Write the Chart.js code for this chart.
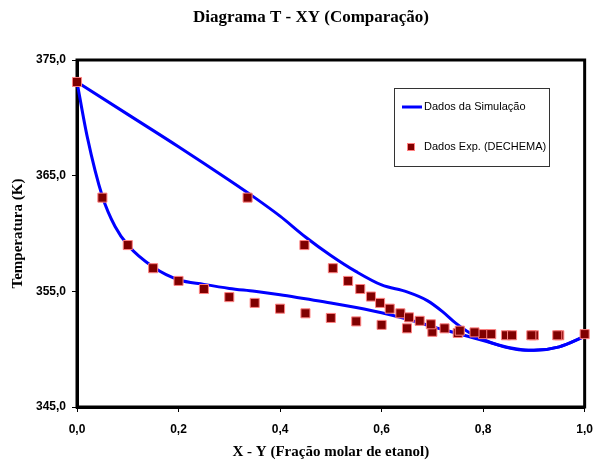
<!DOCTYPE html>
<html>
<head>
<meta charset="utf-8">
<script src="https://cdn.jsdelivr.net/npm/chart.js@4"></script>
<style>
  html, body { margin: 0; padding: 0; background: #fff; }
  #wrap { width: 603px; height: 467px; position: relative; }
</style>
</head>
<body>
<div id="wrap"><canvas id="chart-txy"></canvas></div>
<script>
// Simulação - curva de bolha (T x)
const bubX = [0, 0.02, 0.05, 0.075, 0.1, 0.15, 0.2, 0.25, 0.3, 0.35, 0.4, 0.45, 0.5, 0.55, 0.6, 0.65, 0.7, 0.75, 0.8, 0.85, 0.9, 0.95, 1.0];
const bubT = [373.1, 368.4, 363.2, 360.6, 359.0, 357.1, 356.0, 355.6, 355.25, 355.0, 354.7, 354.35, 354.0, 353.6, 353.15, 352.6, 351.95, 351.35, 350.75, 350.15, 349.9, 350.2, 351.1];

// Simulação - curva de orvalho (T y)
const dewX = [0, 0.1, 0.2, 0.3, 0.35, 0.4, 0.45, 0.5, 0.55, 0.6, 0.65, 0.69, 0.72, 0.746, 0.77, 0.8, 0.83, 0.87, 0.9, 0.95, 1.0];
const dewT = [373.1, 370.3, 367.5, 364.6, 363.1, 361.5, 359.7, 358.1, 356.7, 355.55, 354.95, 354.2, 353.25, 352.25, 351.5, 350.85, 350.35, 349.95, 349.9, 350.2, 351.1];

// Dados experimentais (DECHEMA)
const expX = [0, 0.05, 0.1, 0.15, 0.2, 0.25, 0.3, 0.35, 0.4, 0.45, 0.5, 0.55, 0.6, 0.65, 0.7, 0.75, 0.8, 0.845, 0.9, 0.95, 1.0,
              0.336, 0.448, 0.504, 0.534, 0.558, 0.579, 0.597, 0.616, 0.637, 0.654, 0.675, 0.697, 0.724, 0.754, 0.783, 0.816, 0.857, 0.895, 0.946];
const expT = [373.1, 363.1, 359.0, 357.0, 355.9, 355.2, 354.5, 354.0, 353.5, 353.1, 352.7, 352.4, 352.1, 351.8, 351.5, 351.4, 351.3, 351.2, 351.2, 351.2, 351.3,
              363.1, 359.0, 357.0, 355.9, 355.2, 354.55, 354.0, 353.5, 353.1, 352.75, 352.45, 352.15, 351.8, 351.6, 351.45, 351.3, 351.2, 351.2, 351.2];

const xTicks = [0, 0.2, 0.4, 0.6, 0.8, 1.0];
const yTicks = [345, 355, 365, 375];

const chartTitle = 'Diagrama T - XY (Comparação)';
const xTitle = 'X - Y (Fração molar de etanol)';
const yTitle = 'Temperatura (K)';
const legendLabels = ['Dados da Simulação', 'Dados Exp. (DECHEMA)'];

const toPts = (xs, ys) => xs.map((x, i) => ({ x: x, y: ys[i] }));
const fmt = v => Number(v).toFixed(1).replace('.', ',');

const BLUE = '#0000FF';
const RED = '#800000';
const PINK = '#FF8080';

// moldura, títulos e legenda
const decor = {
  id: 'decor',
  beforeDatasetsDraw(chart) {
    const { ctx, chartArea: a } = chart;
    ctx.save();
    ctx.strokeStyle = '#000';
    ctx.lineWidth = 3;
    ctx.strokeRect(a.left, a.top, a.right - a.left, a.bottom - a.top);
    ctx.restore();
  },
  afterDraw(chart) {
    const { ctx, chartArea: a } = chart;
    ctx.save();
    ctx.fillStyle = '#000';
    ctx.textAlign = 'center';
    ctx.textBaseline = 'middle';

    ctx.font = 'bold 17px "Liberation Serif", "Times New Roman", serif';
    ctx.fillText(chartTitle, 311, 18);

    ctx.font = 'bold 15px "Liberation Serif", "Times New Roman", serif';
    ctx.fillText(xTitle, (a.left + a.right) / 2, 452);

    ctx.save();
    ctx.translate(18, (a.top + a.bottom) / 2);
    ctx.rotate(-Math.PI / 2);
    ctx.fillText(yTitle, 0, 0);
    ctx.restore();

    // legenda
    ctx.strokeStyle = '#333';
    ctx.lineWidth = 1;
    ctx.strokeRect(394.5, 88.5, 155, 78);
    ctx.strokeStyle = BLUE;
    ctx.lineWidth = 3;
    ctx.beginPath();
    ctx.moveTo(402, 107);
    ctx.lineTo(422, 107);
    ctx.stroke();
    ctx.fillStyle = RED;
    ctx.fillRect(407.5, 143.5, 7, 7);
    ctx.strokeStyle = PINK;
    ctx.lineWidth = 1;
    ctx.strokeRect(407.5, 143.5, 7, 7);

    ctx.fillStyle = '#000';
    ctx.textAlign = 'left';
    ctx.font = '11px "Liberation Sans", Arial, sans-serif';
    ctx.fillText(legendLabels[0], 424, 107);
    ctx.fillText(legendLabels[1], 424, 147);
    ctx.restore();
  }
};

const tickFont = { family: '"Liberation Sans", Arial, sans-serif', size: 12, weight: 'bold' };

new Chart(document.getElementById('chart-txy'), {
  type: 'scatter',
  data: {
    datasets: [
      {
        label: legendLabels[1],
        data: toPts(expX, expT),
        pointStyle: 'rect',
        pointRadius: 6.4,
        pointHoverRadius: 6.4,
        backgroundColor: RED,
        borderColor: PINK,
        borderWidth: 1,
        showLine: false,
        clip: false,
        order: 0
      },
      {
        label: legendLabels[0],
        data: toPts(bubX, bubT),
        showLine: true,
        borderColor: BLUE,
        borderWidth: 3,
        pointRadius: 0,
        cubicInterpolationMode: 'monotone',
        clip: false,
        order: 1
      },
      {
        label: 'orvalho',
        data: toPts(dewX, dewT),
        showLine: true,
        borderColor: BLUE,
        borderWidth: 3,
        pointRadius: 0,
        cubicInterpolationMode: 'monotone',
        clip: false,
        order: 2
      }
    ]
  },
  options: {
    responsive: true,
    maintainAspectRatio: false,
    animation: false,
    layout: { padding: { top: 60, right: 17, left: 0, bottom: 0 } },
    plugins: {
      legend: { display: false },
      title: { display: false },
      tooltip: { enabled: false }
    },
    scales: {
      x: {
        type: 'linear',
        min: 0,
        max: 1,
        afterFit: s => { s.height = 60; },
        afterBuildTicks: s => { s.ticks = xTicks.map(v => ({ value: v })); },
        ticks: { callback: fmt, font: tickFont, color: '#000', padding: 10, maxRotation: 0 },
        grid: { drawOnChartArea: false, drawTicks: true, tickLength: 5, color: '#000', lineWidth: 1 },
        border: { display: true, color: '#000', width: 3 }
      },
      y: {
        type: 'linear',
        min: 345,
        max: 375,
        afterFit: s => { s.width = 77; },
        afterBuildTicks: s => { s.ticks = yTicks.map(v => ({ value: v })); },
        ticks: { callback: fmt, font: tickFont, color: '#000', padding: 6 },
        grid: { drawOnChartArea: false, drawTicks: true, tickLength: 5, color: '#000', lineWidth: 1 },
        border: { display: true, color: '#000', width: 3 }
      }
    }
  },
  plugins: [decor]
});
</script>
</body>
</html>
